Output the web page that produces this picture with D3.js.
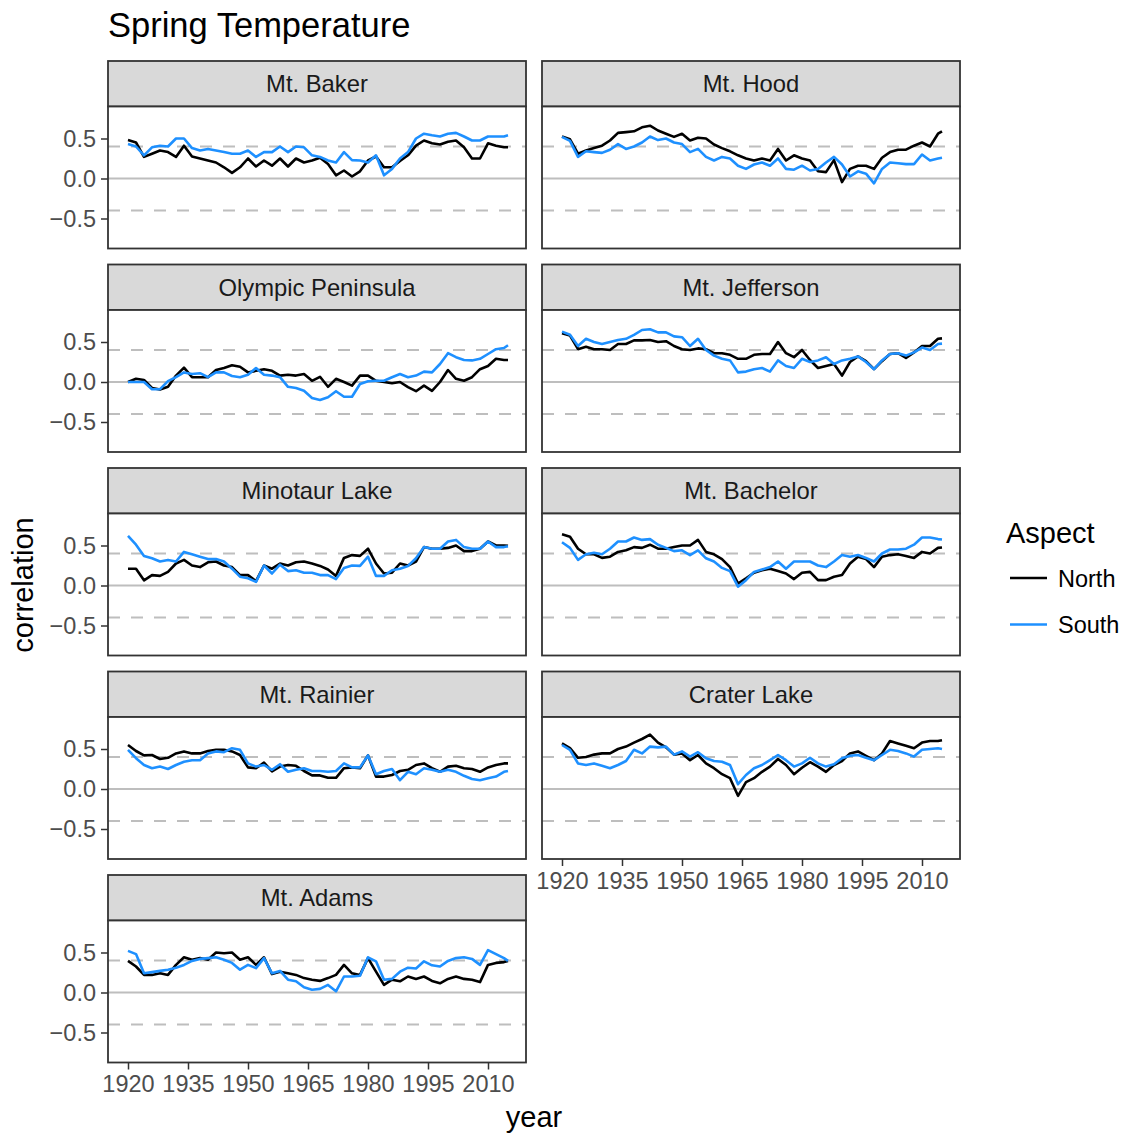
<!DOCTYPE html>
<html>
<head>
<meta charset="utf-8">
<script src="https://cdn.jsdelivr.net/npm/d3@7"></script>
<style>
body { margin: 0; background: #fff; }
svg { display: block; font-family: "Liberation Sans", Arial, Helvetica, sans-serif; }
</style>
</head>
<body>
<div id="my_dataviz"></div>
<script>
// years (every 2 years + last year)
var years = [1920,1922,1924,1926,1928,1930,1932,1934,1936,1938,1940,1942,1944,1946,1948,1950,1952,1954,1956,1958,
  1960,1962,1964,1966,1968,1970,1972,1974,1976,1978,1980,1982,1984,1986,1988,1990,1992,1994,1996,1998,
  2000,2002,2004,2006,2008,2010,2012,2014,2015];

var sites = ["Mt. Baker","Mt. Hood","Olympic Peninsula","Mt. Jefferson","Minotaur Lake","Mt. Bachelor","Mt. Rainier","Crater Lake","Mt. Adams"];
var aspects = ["North","South"];
var xTicks = [1920,1935,1950,1965,1980,1995,2010];
var yTicks = [-0.5,0,0.5];
var refLines = [-0.4,0,0.4];

var bakerNorth = [.48,.45,.27,.31,.35,.33,.27,.41,.275,.25,.225,.2,.14,.07,.14,.25,.15,.225,.16,.25,.15,.25,.2,.225,.26,.18,.04,.1,.025,.09,.225,.275,.14,.14,.22,.29,.41,.475,.44,.425,.46,.475,.39,.25,.25,.44,.41,.39,.39];
var bakerSouth = [.43,.4,.29,.39,.41,.4,.5,.5,.38,.35,.37,.35,.33,.31,.31,.35,.27,.33,.33,.4,.33,.4,.39,.29,.27,.225,.2,.33,.23,.225,.2,.29,.04,.12,.25,.33,.5,.56,.54,.525,.56,.57,.525,.475,.475,.525,.525,.525,.54];
var hoodNorth = [.525,.49,.31,.35,.38,.41,.475,.57,.58,.59,.64,.66,.6,.56,.52,.56,.475,.51,.5,.425,.38,.34,.29,.25,.225,.25,.225,.37,.225,.29,.25,.225,.09,.08,.23,-.045,.12,.16,.16,.12,.26,.33,.36,.36,.41,.45,.4,.56,.59];
var hoodSouth = [.52,.47,.27,.34,.33,.32,.36,.43,.37,.4,.45,.525,.48,.5,.45,.43,.33,.37,.27,.225,.27,.25,.16,.12,.175,.2,.16,.25,.12,.11,.16,.1,.12,.2,.27,.175,.025,.09,.06,-.06,.12,.2,.19,.18,.18,.3,.225,.25,.26];
var olympicNorth = [0,.04,.025,-.075,-.095,-.06,.08,.18,.06,.06,.06,.15,.175,.21,.19,.12,.14,.16,.14,.08,.09,.08,.1,.015,.065,-.06,.04,0,-.045,.08,.08,.015,0,-.015,0,-.065,-.115,-.045,-.11,0,.15,.04,.015,.06,.16,.2,.29,.275,.275];
var olympicSouth = [0,0,0,-.09,-.09,.01,.06,.12,.1,.11,.06,.12,.12,.075,.06,.09,.175,.09,.08,.06,-.06,-.075,-.11,-.2,-.225,-.19,-.115,-.185,-.185,-.025,.01,.015,.015,.06,.1,.06,.08,.13,.12,.225,.36,.31,.275,.27,.29,.35,.41,.425,.46];
var jeffersonNorth = [.61,.58,.41,.44,.41,.41,.4,.475,.475,.52,.52,.525,.5,.51,.45,.41,.4,.42,.41,.36,.36,.34,.29,.29,.34,.35,.35,.5,.36,.31,.4,.275,.175,.2,.225,.08,.25,.32,.26,.16,.26,.35,.36,.3,.37,.45,.45,.54,.545];
var jeffersonSouth = [.63,.59,.45,.54,.5,.475,.5,.525,.54,.59,.65,.66,.62,.62,.57,.56,.45,.54,.4,.33,.29,.27,.12,.13,.16,.175,.13,.27,.2,.175,.29,.25,.27,.31,.225,.27,.29,.32,.25,.16,.27,.35,.36,.33,.37,.43,.4,.475,.48];
var minotaurNorth = [.21,.21,.065,.13,.12,.17,.275,.32,.25,.23,.29,.3,.25,.23,.13,.13,.055,.25,.21,.275,.25,.29,.3,.275,.245,.2,.12,.345,.38,.37,.46,.275,.15,.16,.275,.25,.3,.48,.46,.46,.47,.5,.43,.43,.46,.55,.5,.5,.495];
var minotaurSouth = [.62,.51,.37,.34,.3,.32,.3,.42,.39,.36,.33,.33,.3,.21,.11,.09,.045,.25,.15,.26,.18,.19,.16,.16,.13,.13,.08,.22,.25,.245,.36,.12,.12,.19,.21,.245,.34,.48,.46,.46,.55,.57,.48,.46,.46,.55,.48,.48,.49];
var bachelorNorth = [.64,.61,.46,.39,.39,.345,.36,.42,.44,.48,.47,.51,.46,.46,.48,.5,.5,.57,.42,.39,.33,.23,.025,.09,.16,.19,.21,.18,.15,.08,.16,.17,.067,.067,.11,.13,.275,.36,.33,.23,.36,.38,.39,.37,.345,.42,.4,.47,.475];
var bachelorSouth = [.54,.47,.32,.39,.41,.39,.46,.55,.55,.6,.57,.58,.51,.47,.43,.44,.38,.44,.34,.3,.22,.18,-.015,.067,.17,.2,.23,.3,.21,.3,.3,.3,.25,.23,.3,.38,.36,.38,.345,.3,.4,.45,.45,.46,.51,.6,.6,.58,.575];
var rainierNorth = [.55,.475,.42,.425,.375,.39,.445,.47,.445,.445,.475,.49,.49,.47,.425,.27,.26,.33,.22,.28,.3,.29,.225,.17,.17,.14,.14,.26,.27,.26,.42,.155,.155,.175,.225,.24,.3,.32,.26,.215,.28,.29,.26,.25,.215,.27,.3,.32,.32];
var rainierSouth = [.49,.385,.3,.26,.28,.25,.3,.34,.36,.36,.445,.47,.46,.51,.49,.32,.28,.3,.24,.31,.215,.24,.26,.225,.225,.215,.225,.32,.27,.27,.42,.185,.225,.25,.11,.215,.185,.26,.24,.215,.24,.215,.165,.125,.11,.135,.155,.215,.225];
var craterNorth = [.57,.51,.39,.4,.43,.445,.445,.5,.53,.58,.625,.68,.58,.52,.43,.445,.36,.425,.32,.26,.185,.135,-.085,.085,.135,.215,.28,.375,.3,.185,.265,.335,.28,.215,.3,.35,.445,.47,.415,.36,.445,.6,.57,.54,.51,.58,.6,.6,.61];
var craterSouth = [.55,.49,.32,.3,.32,.29,.26,.3,.35,.49,.445,.53,.52,.53,.43,.47,.405,.46,.385,.35,.34,.3,.06,.175,.26,.3,.36,.425,.36,.28,.32,.39,.32,.28,.31,.385,.415,.425,.39,.36,.425,.49,.475,.445,.405,.49,.5,.51,.5];
var adamsNorth = [.395,.325,.22,.22,.24,.22,.345,.44,.41,.43,.41,.5,.49,.5,.41,.44,.345,.44,.23,.26,.24,.22,.18,.16,.145,.18,.22,.345,.24,.22,.43,.26,.095,.16,.14,.2,.17,.2,.145,.115,.17,.2,.17,.16,.13,.345,.37,.38,.395];
var adamsSouth = [.52,.48,.24,.255,.27,.285,.31,.345,.395,.42,.43,.44,.41,.37,.285,.345,.305,.43,.24,.27,.16,.14,.065,.035,.045,.095,.015,.2,.2,.21,.44,.39,.16,.17,.26,.31,.3,.39,.34,.325,.395,.43,.44,.42,.345,.53,.48,.43,.395];

var series = {
  "Mt. Baker": [bakerNorth, bakerSouth],
  "Mt. Hood": [hoodNorth, hoodSouth],
  "Olympic Peninsula": [olympicNorth, olympicSouth],
  "Mt. Jefferson": [jeffersonNorth, jeffersonSouth],
  "Minotaur Lake": [minotaurNorth, minotaurSouth],
  "Mt. Bachelor": [bachelorNorth, bachelorSouth],
  "Mt. Rainier": [rainierNorth, rainierSouth],
  "Crater Lake": [craterNorth, craterSouth],
  "Mt. Adams": [adamsNorth, adamsSouth]
};

var colors = d3.scaleOrdinal().domain(aspects).range(["#000000", "#1E90FF"]);

var width = 1124, height = 1136;
var panelW = 418, stripH = 45.5, plotH = 142, rowStep = 203.5;
var colX = [108, 542], top0 = 61;
var smallFont = 23.5, stripFont = 23.8, baseFont = 29;

var svg = d3.select("#my_dataviz")
  .append("svg")
  .attr("width", width)
  .attr("height", height);

var x = d3.scaleLinear().domain([1915, 2019.5]).range([0, panelW]);
var y = d3.scaleLinear().domain([-0.875, 0.9]).range([plotH, 0]);

var line = d3.line()
  .x(function(d) { return x(d.year); })
  .y(function(d) { return y(d.value); });

// title
svg.append("text")
  .text("Spring Temperature")
  .attr("x", 108)
  .attr("y", 37)
  .style("font-size", "34.5px")
  .style("fill", "#000");

sites.forEach(function(site, i) {
  var col = i % 2, row = Math.floor(i / 2);
  var g = svg.append("g")
    .attr("transform", "translate(" + colX[col] + "," + (top0 + row * rowStep) + ")");

  // strip
  g.append("rect")
    .attr("width", panelW)
    .attr("height", stripH)
    .style("fill", "#d9d9d9")
    .style("stroke", "#333333")
    .style("stroke-width", "1.8px");
  g.append("text")
    .text(site)
    .attr("x", panelW / 2)
    .attr("y", stripH / 2 + 8.5)
    .attr("text-anchor", "middle")
    .style("font-size", stripFont + "px")
    .style("fill", "#1a1a1a");

  var p = g.append("g").attr("transform", "translate(0," + stripH + ")");
  p.append("rect")
    .attr("width", panelW)
    .attr("height", plotH)
    .style("fill", "#fff");

  refLines.forEach(function(v) {
    p.append("line")
      .attr("x1", 0).attr("x2", panelW)
      .attr("y1", y(v)).attr("y2", y(v))
      .style("stroke", "#bebebe")
      .style("stroke-width", "2px")
      .style("stroke-dasharray", v == 0 ? null : "12,11");
  });

  aspects.forEach(function(a, k) {
    var vals = series[site][k];
    var pts = years.map(function(yr, j) { return {year: yr, value: vals[j]}; });
    p.append("path")
      .datum(pts)
      .attr("d", line)
      .style("fill", "none")
      .style("stroke", colors(a))
      .style("stroke-width", "2.6px")
      .style("stroke-linejoin", "round");
  });

  p.append("rect")
    .attr("width", panelW)
    .attr("height", plotH)
    .style("fill", "none")
    .style("stroke", "#333333")
    .style("stroke-width", "1.8px");

  // y axis on left column only
  if (col == 0) {
    var ya = p.append("g")
      .call(d3.axisLeft(y).tickValues(yTicks).tickSize(7).tickPadding(5).tickFormat(d3.format(".1f")));
    ya.select(".domain").remove();
    ya.selectAll("line").style("stroke", "#333333").style("stroke-width", "1.5px");
    ya.selectAll("text").style("font-size", smallFont + "px").style("fill", "#4d4d4d").style("font-family", "inherit");
  }

  // x axis on the lowest panel of each column
  var isBottom = (i == sites.length - 1) || (i == sites.length - 2);
  if (isBottom) {
    var xa = p.append("g")
      .attr("transform", "translate(0," + plotH + ")")
      .call(d3.axisBottom(x).tickValues(xTicks).tickSize(7).tickPadding(6).tickFormat(d3.format("d")));
    xa.select(".domain").remove();
    xa.selectAll("line").style("stroke", "#333333").style("stroke-width", "1.5px");
    xa.selectAll("text").style("font-size", smallFont + "px").style("fill", "#4d4d4d").style("font-family", "inherit");
  }
});

// axis titles
svg.append("text")
  .text("year")
  .attr("x", 534)
  .attr("y", 1127)
  .attr("text-anchor", "middle")
  .style("font-size", baseFont + "px");

svg.append("text")
  .text("correlation")
  .attr("transform", "translate(33,585) rotate(-90)")
  .attr("text-anchor", "middle")
  .style("font-size", baseFont + "px");

// legend
svg.append("text")
  .text("Aspect")
  .attr("x", 1006)
  .attr("y", 543)
  .style("font-size", baseFont + "px");

aspects.forEach(function(a, k) {
  var ly = 578 + k * 46.5;
  svg.append("line")
    .attr("x1", 1010).attr("x2", 1047)
    .attr("y1", ly).attr("y2", ly)
    .style("stroke", colors(a))
    .style("stroke-width", "2.6px");
  svg.append("text")
    .text(a)
    .attr("x", 1058)
    .attr("y", ly + 8.5)
    .style("font-size", smallFont + "px")
    .style("fill", "#000");
});
</script>
</body>
</html>
